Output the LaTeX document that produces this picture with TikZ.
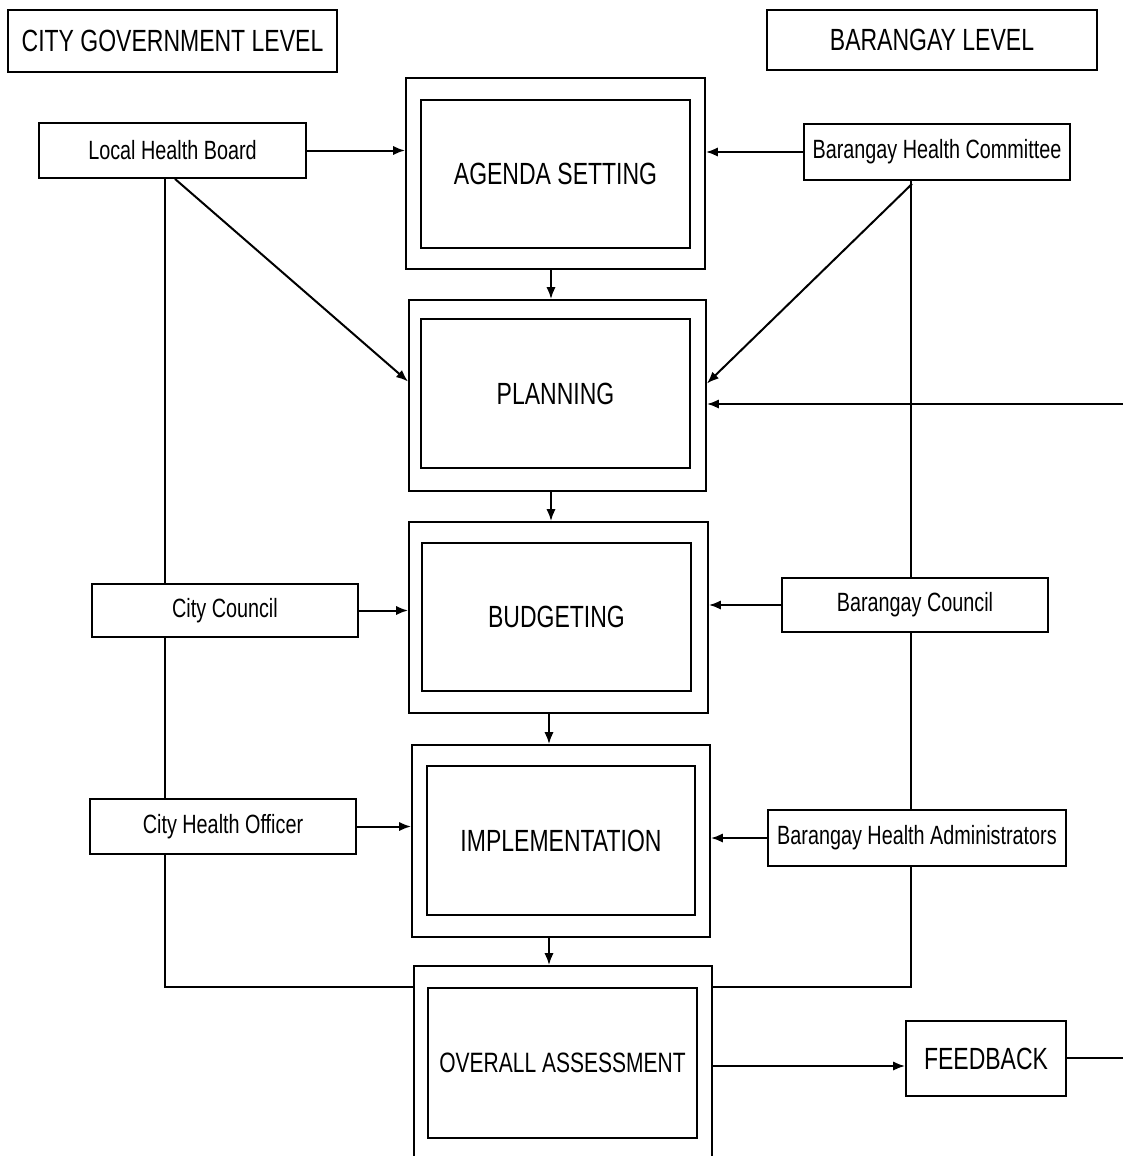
\documentclass[tikz,border=0pt]{standalone}
\usepackage{fontspec}
\setmainfont{Liberation Sans}[FakeStretch=0.75]
\usetikzlibrary{arrows.meta,calc}
\begin{document}
\begin{tikzpicture}[x=0.75pt,y=-0.75pt,
  box/.style={draw, fill=white, line width=1.4pt, inner sep=0pt, align=center},
  small/.style={box, font=\fontsize{19.8}{22}\selectfont},
  big/.style={box, font=\fontsize{23}{26}\selectfont},
  outer/.style={draw, fill=white, line width=1.4pt, inner sep=0pt},
  arr/.style={line width=1.5pt, -{Latex[length=9pt,width=7pt]}},
  ln/.style={line width=1.5pt}
]
\useasboundingbox (0,0) rectangle (1123,1156);
\clip (0,0) rectangle (1123,1156);
% headings
\node[big, minimum width=329*0.75pt, minimum height=62*0.75pt] (cgl) at (172.5,41) {CITY GOVERNMENT LEVEL};
\node[big, minimum width=330*0.75pt, minimum height=60*0.75pt] (bl) at (932,40) {BARANGAY LEVEL};
% side boxes
\node[small, minimum width=267*0.75pt, minimum height=55*0.75pt] (lhb) at (172.5,150.5) {Local Health Board};
\node[small, minimum width=266*0.75pt, minimum height=56*0.75pt] (bhc) at (937,152) {Barangay Health Committee};
\node[small, minimum width=266*0.75pt, minimum height=53*0.75pt] (cc) at (225,610.5) {City Council};
\node[small, minimum width=266*0.75pt, minimum height=54*0.75pt] (bc) at (915,605) {Barangay Council};
\node[small, minimum width=266*0.75pt, minimum height=55*0.75pt] (cho) at (223,826.5) {City Health Officer};
\node[small, minimum width=298*0.75pt, minimum height=56*0.75pt] (bha) at (917,838) {Barangay Health Administrators};
\node[big, minimum width=160*0.75pt, minimum height=75*0.75pt] (fb) at (986,1058.5) {FEEDBACK};
% central double boxes
\node[outer, minimum width=299*0.75pt, minimum height=191*0.75pt] (agO) at (555.5,173.5) {};
\node[big, minimum width=269*0.75pt, minimum height=148*0.75pt] (agI) at (555.5,174) {AGENDA SETTING};
\node[outer, minimum width=297*0.75pt, minimum height=191*0.75pt] (plO) at (557.5,395.5) {};
\node[big, minimum width=269*0.75pt, minimum height=149*0.75pt] (plI) at (555.5,393.5) {PLANNING};
\node[outer, minimum width=299*0.75pt, minimum height=191*0.75pt] (buO) at (558.5,617.5) {};
\node[big, minimum width=269*0.75pt, minimum height=148*0.75pt] (buI) at (556.5,617) {BUDGETING};
\node[outer, minimum width=298*0.75pt, minimum height=192*0.75pt] (imO) at (561,841) {};
\node[big, minimum width=268*0.75pt, minimum height=149*0.75pt] (imI) at (561,840.5) {IMPLEMENTATION};
\node[outer, minimum width=298*0.75pt, minimum height=214*0.75pt] (ovO) at (563,1073) {};
\node[box, font=\fontsize{21}{24}\selectfont, minimum width=269*0.75pt, minimum height=150*0.75pt] (ovI) at (562.5,1063) {OVERALL ASSESSMENT};
% helper coordinates
\coordinate (XL) at (165,0);
\coordinate (XR) at (911,0);
\coordinate (XA) at (551,0);
\coordinate (XB) at (549,0);
\coordinate (YB) at (0,987);
\coordinate (YF) at (0,1066);
\coordinate (R1) at (1123,404);
\coordinate (R2) at (1123,1058);
% arrows into agenda setting
\draw[arr] (lhb.east) -- (agO.west |- lhb.east);
\draw[arr] (bhc.west) -- (agO.east |- bhc.west);
% vertical flow
\draw[arr] (agO.south -| XA) -- (plO.north -| XA);
\draw[arr] (plO.south -| XA) -- (buO.north -| XA);
\draw[arr] (buO.south -| XB) -- (imO.north -| XB);
\draw[arr] (imO.south -| XB) -- (ovO.north -| XB);
% diagonals into planning
\draw[arr] ($(lhb.south)+(2.5,0)$) -- ($(plO.west)+(0,-14)$);
\draw[arr] ($(bhc.south)+(-25,3)$) -- ($(plO.east)+(0,-12)$);
\draw[arr] (R1) -- (plO.east |- R1);
% budgeting
\draw[arr] (cc.east) -- (buO.west |- cc.east);
\draw[arr] (bc.west) -- (buO.east |- bc.west);
% implementation
\draw[arr] (cho.east) -- (imO.west |- cho.east);
\draw[arr] (bha.west) -- (imO.east |- bha.west);
% feedback
\draw[arr] (ovO.east |- YF) -- (fb.west |- YF);
\draw[ln] (fb.east |- R2) -- (R2);
% left vertical line
\draw[ln] (lhb.south -| XL) -- (cc.north -| XL);
\draw[ln] (cc.south -| XL) -- (cho.north -| XL);
\draw[ln] (cho.south -| XL) |- (ovO.west |- YB);
% right vertical line
\draw[ln] (bhc.south -| XR) -- (bc.north -| XR);
\draw[ln] (bc.south -| XR) -- (bha.north -| XR);
\draw[ln] (bha.south -| XR) |- (ovO.east |- YB);
\end{tikzpicture}
\end{document}
